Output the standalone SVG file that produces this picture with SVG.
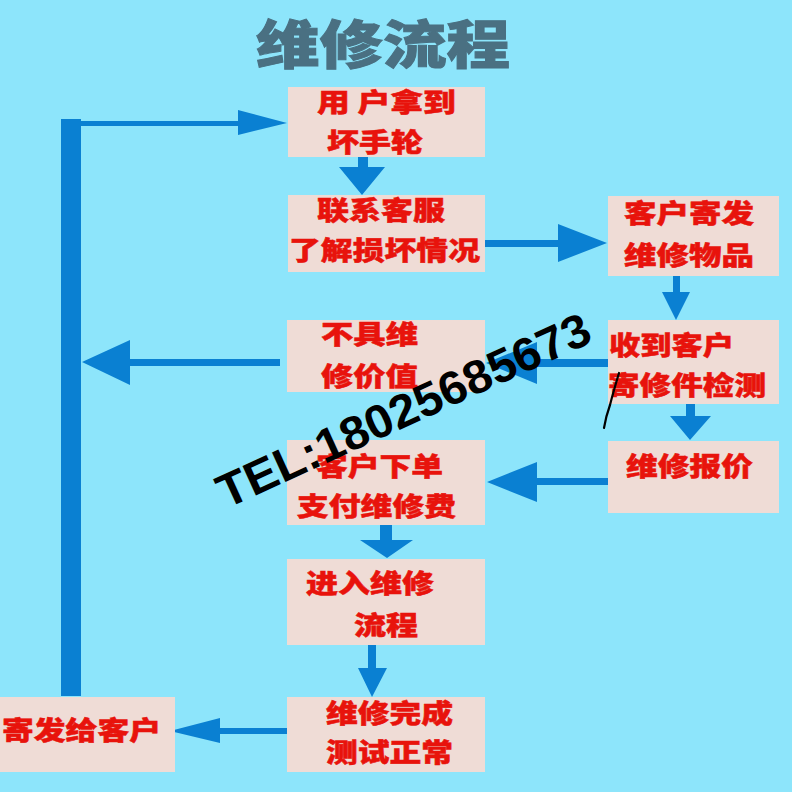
<svg xmlns="http://www.w3.org/2000/svg" width="792" height="792" viewBox="0 0 792 792">
<style>
.box{fill:#efdcd6}
.t{font-family:"Noto Sans CJK SC","Noto Sans CJK JP",sans-serif;font-weight:900;font-size:26px;fill:#e8130c;stroke:#e8130c;stroke-width:0.5px}
.arr{fill:#0a80d2}
.title{font-family:"Noto Sans CJK SC",sans-serif;font-weight:900;font-size:52px;fill:#4a7082;stroke:#4a7082;stroke-width:1px}
.wm{font-family:"Liberation Sans","Noto Sans",sans-serif;font-weight:bold;font-size:47px;fill:#000}
</style>
<rect width="792" height="792" fill="#8de5fb"/>
<text class="title" x="256" y="64" textLength="254" lengthAdjust="spacingAndGlyphs">维修流程</text>
<g id="connectors">
<path class="arr" d="M61,696 V119 H81 V121 H238 V110 L287,123 L238,135 V126 H81 V696 Z"/>
<path class="arr" d="M358,157 H368 V167 H385 L362,195 L339,167 H358 Z"/>
<path class="arr" d="M485,240 H558 V224 L607,243 L558,262 V247 H485 Z"/>
<path class="arr" d="M673,275 H680 V292 H690 L676,320 L662,292 H673 Z"/>
<path class="arr" d="M686,404 H695 V416 H711 L690,440 L670,416 H686 Z"/>
<path class="arr" d="M608,359 V367 H537 V384 L486,363 L537,342 V359 Z"/>
<path class="arr" d="M280,359 V366 H130 V385 L82,362 L130,340 V359 Z"/>
<path class="arr" d="M608,478 V485 H537 V502 L487,482 L537,462 V478 Z"/>
<path class="arr" d="M380,525 H392 V540 H413 L387,558 L360,540 H380 Z"/>
<path class="arr" d="M368,645 H376 V668 H387 L372,697 L358,668 H368 Z"/>
<path class="arr" d="M287,728 V734 H220 V743 L170,731 L220,718 V728 Z"/>
</g>
<g id="n1"><rect class="box" x="288" y="87" width="197" height="70"/>
<text class="t" x="317" y="112" textLength="139" lengthAdjust="spacingAndGlyphs">用 户拿到</text>
<text class="t" x="327" y="152" textLength="96" lengthAdjust="spacingAndGlyphs">坏手轮</text></g>
<g id="n2"><rect class="box" x="288" y="195" width="197" height="77"/>
<text class="t" x="317" y="220" textLength="128" lengthAdjust="spacingAndGlyphs">联系客服</text>
<text class="t" x="289" y="260" textLength="191" lengthAdjust="spacingAndGlyphs">了解损坏情况</text></g>
<g id="n3"><rect class="box" x="608" y="196" width="171" height="80"/>
<text class="t" x="624" y="223" textLength="130" lengthAdjust="spacingAndGlyphs">客户寄发</text>
<text class="t" x="624" y="265" textLength="130" lengthAdjust="spacingAndGlyphs">维修物品</text></g>
<g id="n4"><rect class="box" x="608" y="320" width="171" height="84"/>
<text class="t" x="609" y="355" textLength="125" lengthAdjust="spacingAndGlyphs">收到客户</text>
<text class="t" x="608" y="395" textLength="158" lengthAdjust="spacingAndGlyphs">寄修件检测</text></g>
<g id="n5"><rect class="box" x="287" y="320" width="198" height="72"/>
<text class="t" x="321" y="344" textLength="97" lengthAdjust="spacingAndGlyphs">不具维</text>
<text class="t" x="321" y="386" textLength="97" lengthAdjust="spacingAndGlyphs">修价值</text></g>
<g id="n6"><rect class="box" x="608" y="441" width="171" height="72"/>
<text class="t" x="626" y="476" textLength="127" lengthAdjust="spacingAndGlyphs">维修报价</text></g>
<g id="n7"><rect class="box" x="287" y="440" width="198" height="85"/>
<text class="t" x="316" y="476" textLength="127" lengthAdjust="spacingAndGlyphs">客户下单</text>
<text class="t" x="297" y="516" textLength="159" lengthAdjust="spacingAndGlyphs">支付维修费</text></g>
<g id="n8"><rect class="box" x="287" y="559" width="198" height="86"/>
<text class="t" x="306" y="593" textLength="128" lengthAdjust="spacingAndGlyphs">进入维修</text>
<text class="t" x="354" y="635" textLength="64" lengthAdjust="spacingAndGlyphs">流程</text></g>
<g id="n9"><rect class="box" x="287" y="697" width="198" height="75"/>
<text class="t" x="326" y="723" textLength="127" lengthAdjust="spacingAndGlyphs">维修完成</text>
<text class="t" x="326" y="762" textLength="127" lengthAdjust="spacingAndGlyphs">测试正常</text></g>
<g id="n10"><rect class="box" x="0" y="697" width="175" height="75"/>
<text class="t" x="2" y="740" textLength="159" lengthAdjust="spacingAndGlyphs">寄发给客户</text></g>
<text class="wm" transform="translate(226,509) rotate(-24.5)" x="0" y="0" textLength="405" lengthAdjust="spacingAndGlyphs">TEL:18025685673</text>
<path d="M619,373 Q613,393 610,405 Q606,416 604,428" fill="none" stroke="#000" stroke-width="2.2" stroke-linecap="round"/>
</svg>
